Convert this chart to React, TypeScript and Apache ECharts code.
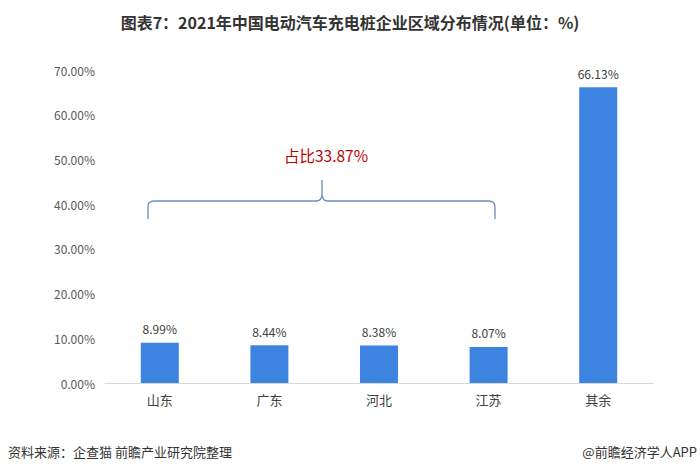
import React, { useEffect, useRef } from "react";
import * as echarts from "echarts";

const categories = ["山东", "广东", "河北", "江苏", "其余"];
const shares = [8.99, 8.44, 8.38, 8.07, 66.13];
const yTicks = { min: 0, max: 70, interval: 10 };
const titleText = "图表7：2021年中国电动汽车充电桩企业区域分布情况(单位：%)";
const braceLabel = "占比33.87%";
const sourceText = "资料来源：企查猫 前瞻产业研究院整理";
const creditText = "@前瞻经济学人APP";

const FONT = '"Noto Sans CJK SC", "Noto Sans", sans-serif';

const BRACE_D =
  "M0,39 L0,27 Q0,21 6,21 L168,21 Q174,21 174,14 L174,0 M174,14 Q174,21 180,21 L341,21 Q347,21 347,27 L347,39";

let registered = false;
function registerBrace() {
  if (registered) return;
  echarts.graphic.registerShape("brace", (echarts.graphic as any).extendPath(BRACE_D, {}));
  registered = true;
}

export default function App() {
  const ref = useRef<HTMLDivElement>(null);
  useEffect(() => {
    if (!ref.current) return;
    registerBrace();
    const chart = echarts.init(ref.current, undefined, { renderer: "svg" });
    chart.setOption({
      animation: false,
      backgroundColor: "#ffffff",
      textStyle: { fontFamily: FONT },
      title: {
        text: titleText,
        left: "center",
        top: 9,
        textStyle: { fontSize: 16, fontWeight: "bold", color: "#333333", fontFamily: FONT },
      },
      grid: { left: 105, right: 47, top: 70, bottom: 90, containLabel: false },
      xAxis: {
        type: "category",
        data: categories,
        axisLine: { lineStyle: { color: "#d9d9d9", width: 1 } },
        axisTick: { show: false },
        axisLabel: { color: "#404040", fontSize: 13, margin: 10, fontFamily: FONT },
      },
      yAxis: {
        type: "value",
        min: yTicks.min,
        max: yTicks.max,
        interval: yTicks.interval,
        splitLine: { show: false },
        axisLine: { show: false },
        axisTick: { show: false },
        axisLabel: {
          color: "#595959",
          fontSize: 12,
          margin: 10,
          fontFamily: FONT,
          formatter: (v: number) => v.toFixed(2) + "%",
        },
      },
      series: [
        {
          type: "bar",
          data: shares,
          barWidth: 38,
          itemStyle: { color: "#3d84e0" },
          label: {
            show: true,
            position: "top",
            distance: 8,
            color: "#404040",
            fontSize: 12,
            fontFamily: FONT,
            formatter: (p: any) => Number(p.value).toFixed(2) + "%",
          },
        },
      ],
      graphic: [
        {
          type: "brace",
          x: 148,
          y: 180,
          style: { fill: "none", stroke: "#6a8cbf", lineWidth: 1.3 },
        },
        {
          type: "text",
          x: 326,
          y: 155,
          style: {
            text: braceLabel,
            fill: "#c00000",
            fontSize: 15.5,
            fontFamily: FONT,
            align: "center",
            verticalAlign: "middle",
          },
        },
        {
          type: "text",
          x: 8,
          y: 451,
          style: {
            text: sourceText,
            fill: "#333333",
            fontSize: 13,
            fontFamily: FONT,
            align: "left",
            verticalAlign: "middle",
          },
        },
        {
          type: "text",
          x: 697,
          y: 451,
          style: {
            text: creditText,
            fill: "#333333",
            fontSize: 13,
            fontFamily: FONT,
            align: "right",
            verticalAlign: "middle",
          },
        },
      ],
    });
    return () => chart.dispose();
  }, []);
  return <div ref={ref} style={{ width: 700, height: 473, position: "absolute", left: 0, top: 0 }} />;
}
